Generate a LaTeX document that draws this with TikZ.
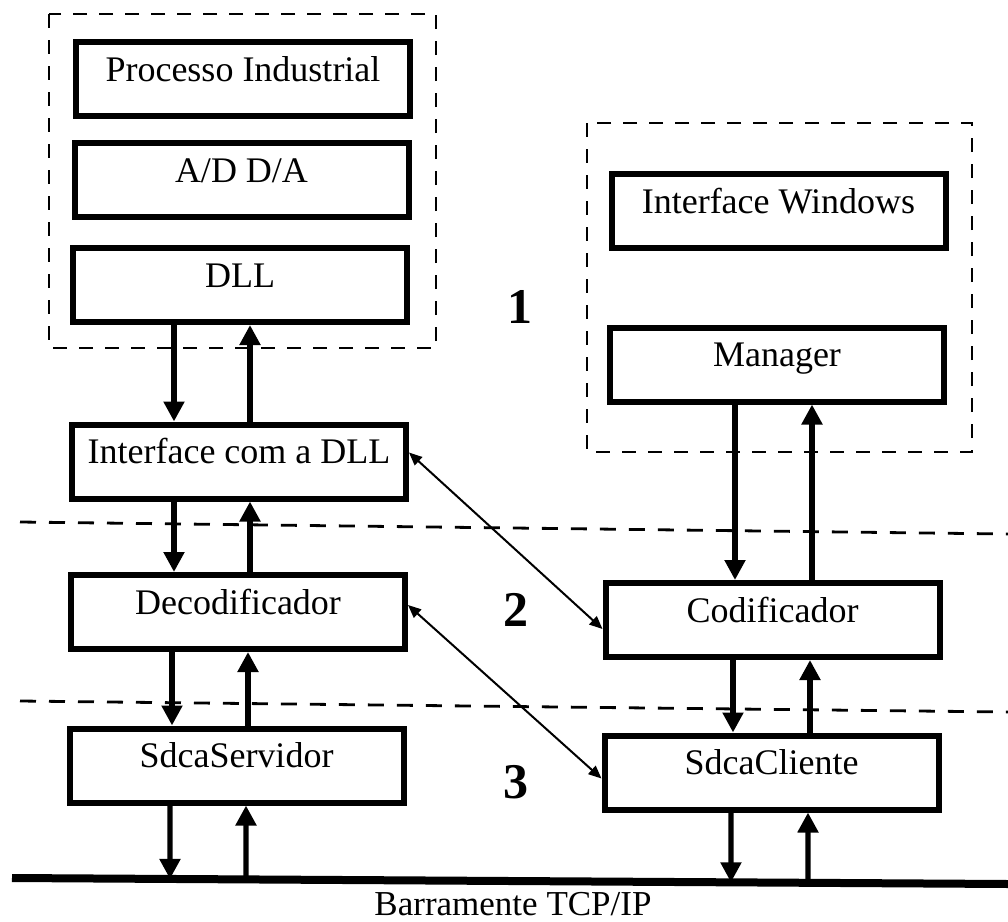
\documentclass[tikz,border=0pt]{standalone}
\usepackage{fontspec}
\setmainfont{Liberation Serif}
\usetikzlibrary{arrows.meta,calc}

\tikzset{
  layerbox/.style={draw, line width=3pt, fill=white, minimum width=167pt,
    inner sep=0pt, text height=19.5pt, text depth=17.5pt,
    font=\fontsize{18}{20}\selectfont},
  groupframe/.style={draw, line width=1.4pt, dash pattern=on 7pt off 6pt},
  levelsep/.style={line width=1.4pt, dash pattern=on 8pt off 6.5pt},
  flow/.style={line width=2.6pt, -{Triangle[length=10pt,width=10pt]}},
  link/.style={line width=1pt, {Triangle[length=6.5pt,width=5.5pt]}-{Triangle[length=6.5pt,width=5.5pt]}},
  levelnum/.style={font=\fontsize{25}{27}\selectfont\bfseries},
}

\begin{document}
\begin{tikzpicture}[x=0.5pt, y=-0.5pt]
\useasboundingbox (0,0) rectangle (1008,922);

% dashed frames around the process side and the client side
\draw[groupframe] (49,14) rectangle (436,348);
\draw[groupframe] (587,123) rectangle (972,452);

% layer separators
\coordinate (sepA1) at (20,522);
\coordinate (sepA2) at (1008,534);
\coordinate (sepB1) at (20,701);
\coordinate (sepB2) at (1008,712);
\draw[levelsep] (sepA1) -- (sepA2);
\draw[levelsep] (sepB1) -- (sepB2);

% server side stack
\node[layerbox] (proc) at (243,79)   {Processo Industrial};
\node[layerbox] (adda) at (241.5,180) {A/D D/A};
\node[layerbox] (dll)  at (240,285)  {DLL};
\node[layerbox] (ifc)  at (239,461.5) {Interface com a DLL};
\node[layerbox] (dec)  at (238,612)  {Decodificador};
\node[layerbox] (srv)  at (236.5,765.5) {SdcaServidor};

% client side stack
\node[layerbox] (win)  at (778.5,211) {Interface Windows};
\node[layerbox] (mgr)  at (777,364.5) {Manager};
\node[layerbox] (cod)  at (772.5,620) {Codificador};
\node[layerbox] (cli)  at (771.5,772.5) {SdcaCliente};

% level numbers
\node[levelnum] (n1) at (520,307) {1};
\node[levelnum] (n2) at (516,610) {2};
\node[levelnum] (n3) at (516,782) {3};

% TCP/IP bus
\coordinate (busL) at (12,878);
\coordinate (busR) at (1008,884);
\draw[line width=4pt] (busL) -- (busR);
\node[font=\fontsize{17.5}{19}\selectfont] (busname) at (513,904) {Barramente TCP/IP};

% vertical data flow, server side
\draw[flow] (dll.south -| 174,0) -- (ifc.north -| 174,0);
\draw[flow] (ifc.north -| 250,0) -- (dll.south -| 250,0);
\draw[flow] (ifc.south -| 174,0) -- (dec.north -| 174,0);
\draw[flow] (dec.north -| 250,0) -- (ifc.south -| 250,0);
\draw[flow] (dec.south -| 172,0) -- (srv.north -| 172,0);
\draw[flow] (srv.north -| 248,0) -- (dec.south -| 248,0);
\draw[flow] (srv.south -| 170,0) -- ($(busL)!(170,879)!(busR)$);
\draw[flow] ($(busL)!(246,879)!(busR)$) -- (srv.south -| 246,0);

% vertical data flow, client side
\draw[flow] (mgr.south -| 735,0) -- (cod.north -| 735,0);
\draw[flow] (cod.north -| 812,0) -- (mgr.south -| 812,0);
\draw[flow] (cod.south -| 733,0) -- (cli.north -| 733,0);
\draw[flow] (cli.north -| 810,0) -- (cod.south -| 810,0);
\draw[flow] (cli.south -| 731,0) -- ($(busL)!(731,883)!(busR)$);
\draw[flow] ($(busL)!(808,883)!(busR)$) -- (cli.south -| 808,0);

% cross links between peer layers
\draw[link] ([yshift=4.5pt]ifc.east) -- ([yshift=-4.5pt]cod.west);
\draw[link] ([yshift=3.5pt]dec.east) -- ([yshift=-3pt]cli.west);
\end{tikzpicture}
\end{document}
